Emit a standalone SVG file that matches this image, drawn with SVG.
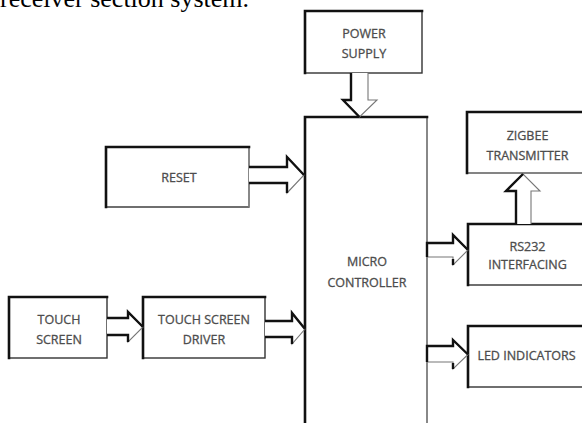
<svg xmlns="http://www.w3.org/2000/svg" width="582" height="423" viewBox="0 0 582 423">
<style>
.bg{fill:#fff}
.box{fill:#fff;stroke:#333;stroke-width:1.4}
.edge{fill:none;stroke:#111;stroke-width:2.6;stroke-linecap:square}
.thin{fill:none;stroke:#999;stroke-width:1.2}
.lbl{font-family:"Open Sans","Liberation Sans",sans-serif;font-size:12.5px;fill:#4d4d4d;stroke:#4d4d4d;stroke-width:0.3;text-anchor:middle}
.arr{fill:#fff;stroke:#777;stroke-width:1.1;stroke-linejoin:miter}
.arrk{fill:none;stroke:#111;stroke-width:2.4;stroke-linejoin:miter}
.head{font-family:"Liberation Serif",serif;font-size:26px;fill:#000}
</style>
<rect class="bg" x="0" y="0" width="582" height="423"/>
<text class="head" x="0" y="7">receiver section system.</text>

<g id="power">
<rect class="box" x="305" y="11" width="117" height="62"/>
<path class="edge" d="M305,73 V11 H422"/>
<text class="lbl" x="364" y="38">POWER</text>
<text class="lbl" x="364" y="58">SUPPLY</text>
</g>

<g id="mcu">
<rect class="box" x="305" y="117" width="122" height="320"/>
<path class="thin" d="M427,117 V430" stroke="#aaa"/>
<path class="edge" d="M305,430 V117 H427"/>
<text class="lbl" x="367" y="266" font-size="11.5">MICRO</text>
<text class="lbl" x="367" y="287">CONTROLLER</text>
</g>

<g id="reset">
<rect class="box" x="106" y="147" width="143" height="60"/>
<path class="thin" d="M249,147 V207"/>
<path class="edge" d="M106,207 V147 H249"/>
<text class="lbl" x="179" y="182">RESET</text>
</g>

<g id="touch">
<rect class="box" x="9" y="297" width="98" height="61"/>
<path class="edge" d="M9,358 V297 H107"/>
<text class="lbl" x="59" y="323.5">TOUCH</text>
<text class="lbl" x="59" y="343.5">SCREEN</text>
</g>

<g id="driver">
<rect class="box" x="143" y="297" width="122" height="61"/>
<path class="edge" d="M143,358 V297 H265"/>
<text class="lbl" x="204" y="324">TOUCH SCREEN</text>
<text class="lbl" x="204" y="343.5">DRIVER</text>
</g>

<g id="zigbee">
<rect class="box" x="467" y="112" width="120" height="61"/>
<path class="thin" d="M467,173 H587"/>
<path class="edge" d="M467,173 V112 H587"/>
<text class="lbl" x="527.5" y="139.5">ZIGBEE</text>
<text class="lbl" x="527.5" y="159.5">TRANSMITTER</text>
</g>

<g id="rs232">
<rect class="box" x="468" y="224" width="120" height="61"/>
<path class="edge" d="M468,285 V224 H588"/>
<text class="lbl" x="527.5" y="251">RS232</text>
<text class="lbl" x="527.5" y="269">INTERFACING</text>
</g>

<g id="led">
<rect class="box" x="468" y="326" width="120" height="61"/>
<path class="edge" d="M468,387 V326 H588"/>
<text class="lbl" x="526.5" y="359.5">LED INDICATORS</text>
</g>

<g id="connectors">
<path class="arr" d="M351,73 V100 H343 L359.5,117 L377,100 H368 V73"/>
<path class="arrk" d="M351,73 V100 H343 L359.5,117"/>

<path class="arr" d="M249,167 H287 V157 L304,175 L287,193 V183 H249"/>
<path class="arrk" d="M249,167 H287 V157 L304,175"/>
<path class="arrk" d="M287,193 V183 H249" stroke-width="1.6"/>

<path class="arr" d="M107,318 H128 V312 L143,327 L128,342 V335 H107"/>
<path class="arrk" d="M107,318 H128 V312 L143,327"/>
<path class="arrk" d="M128,342 V335 H107" stroke-width="1.6"/>

<path class="arr" d="M265,321 H292 V313 L305,329 L292,344 V337 H265"/>
<path class="arrk" d="M265,321 H292 V313 L305,329"/>
<path class="arrk" d="M292,344 V337 H265" stroke-width="1.6"/>

<path class="arr" d="M427,243 H453 V235 L468,250 L453,265 V257 H427"/>
<path class="arrk" d="M427,257 V243 H453 V235 L468,250"/>
<path class="arrk" d="M453,265 V259" stroke-width="1.8"/>

<path class="arr" d="M427,346 H453 V340 L468,354.5 L453,369 V362 H427"/>
<path class="arrk" d="M427,362 V346 H453 V340 L468,354.5"/>
<path class="arrk" d="M453,369 V363" stroke-width="1.8"/>

<path class="arr" d="M516,224 V191 H506 L523,174 L540,191 H531 V224"/>
<path class="arrk" d="M516,224 V191 H506 L523,174"/>
</g>
</svg>
